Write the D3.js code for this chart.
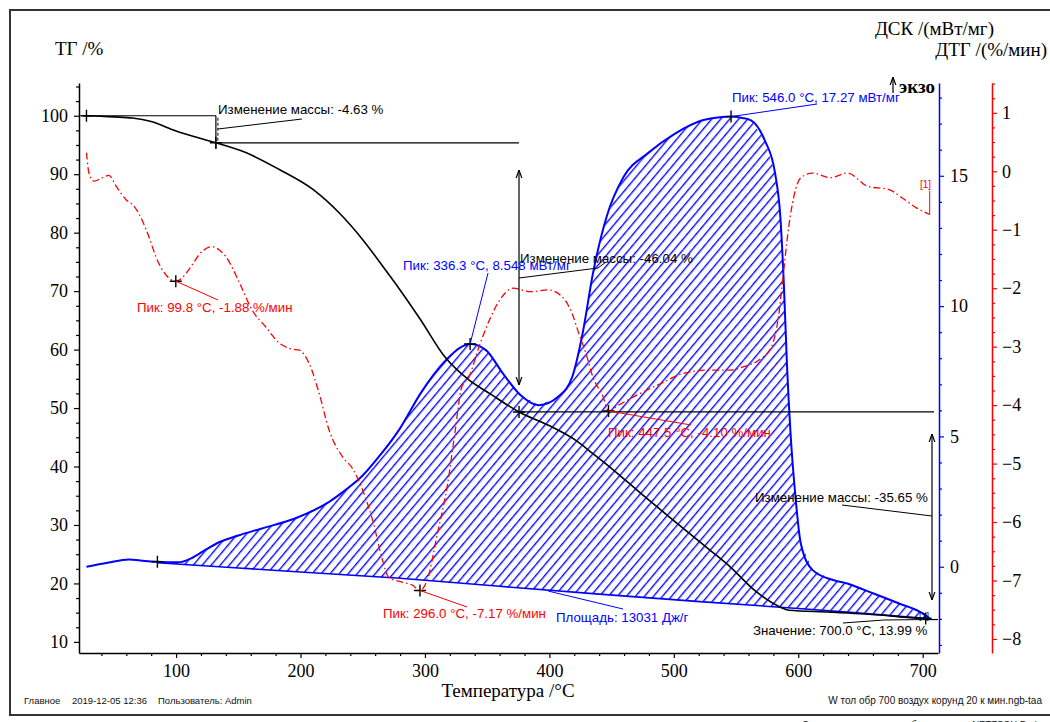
<!DOCTYPE html>
<html>
<head>
<meta charset="utf-8">
<script src="https://cdn.jsdelivr.net/npm/d3@7/dist/d3.min.js"></script>
<style>
  html, body { margin: 0; padding: 0; background: #fff; }
  svg { display: block; }
  .tick text { font-family: "Liberation Serif", "Times New Roman", serif; font-size: 18px; fill: #000; }
  .ann { font-family: "Liberation Sans", Arial, sans-serif; font-size: 13.3px; }
</style>
</head>
<body>
<svg id="chart" width="1050" height="722"></svg>
<script>
// ---------- DATA ----------
// TG (mass, %)
const tgT = [25, 50, 65, 80, 100, 115, 132, 156, 183, 210, 231, 250, 268, 280, 296.5, 315.8, 335.3, 351.9, 375.6, 398.8, 421, 435, 451.5, 473.5, 490, 509.3, 529, 545.5, 565, 585, 592.5, 625.6, 666, 690, 700, 706];
const tgV = [100, 99.8, 99.6, 99.0, 97.4, 96.4, 95.37, 93.7, 90.8, 87.4, 83.4, 78.8, 73.7, 70.2, 65.1, 58.8, 54.8, 52.5, 49.33, 47.1, 44.5, 42.2, 39.4, 35.4, 32.5, 29.1, 25.7, 22.8, 18.8, 16.0, 15.4, 15.1, 14.6, 14.15, 13.99, 13.9];
// DSC (mW/mg)
const dscT = [28, 45, 62, 75, 85, 102, 112, 122, 135, 150, 169, 196, 223, 236, 250, 263, 280, 296.5, 317, 328, 336.3, 349, 362.6, 376.7, 391.6, 407, 418.4, 426.7, 435, 446, 459.7, 479, 501, 523, 537, 546, 555, 562, 573, 581.4, 585.6, 588.4, 591, 593.8, 598, 602, 611.6, 628, 640, 653, 680.5, 700, 706];
const dscV = [0.0, 0.15, 0.28, 0.22, 0.19, 0.17, 0.32, 0.6, 0.95, 1.2, 1.47, 1.86, 2.49, 2.94, 3.5, 4.22, 5.31, 6.65, 7.93, 8.4, 8.548, 8.31, 7.42, 6.59, 6.2, 6.52, 7.29, 8.95, 11.25, 13.43, 14.96, 15.86, 16.62, 17.13, 17.25, 17.27, 17.22, 17.13, 16.37, 15.09, 13.43, 10.87, 7.67, 5.12, 2.56, 0.9, -0.13, -0.51, -0.65, -0.89, -1.40, -1.79, -2.0];
// DSC integration baseline
const baseT = [85, 150, 200, 280, 360, 440, 521, 600, 650, 706];
const baseV = [0.15, -0.05, -0.2, -0.44, -0.75, -1.05, -1.34, -1.6, -1.78, -2.0];
// DTG (%/min)
const dtgT = [28, 30, 34, 40, 46, 52, 60, 65, 70, 76, 86, 93, 99.8, 105, 110, 121, 129, 135, 140, 151, 161, 172, 183, 193, 199, 207, 215, 223, 234, 242, 250, 258, 266, 271, 282, 290, 296, 301.7, 310, 318.2, 324, 329.6, 335.3, 343.5, 351.9, 360.2, 370.9, 385, 398.8, 410, 418.2, 423.6, 429.3, 435, 443.2, 447.5, 455.6, 473, 489.7, 507.3, 529, 545.5, 556.4, 570.3, 578.5, 584.1, 588.1, 592.4, 596.5, 602.1, 611.6, 625.6, 639.5, 656, 672.5, 683.9, 695.3, 705.6];
const dtgV = [0.32, -0.03, -0.17, -0.12, -0.07, -0.26, -0.49, -0.57, -0.72, -1.0, -1.57, -1.8, -1.88, -1.82, -1.69, -1.37, -1.29, -1.35, -1.46, -1.91, -2.37, -2.66, -2.94, -3.04, -3.06, -3.29, -3.80, -4.43, -4.89, -5.09, -5.46, -5.97, -6.66, -6.95, -7.03, -7.08, -7.17, -7.0, -6.2, -5.35, -4.49, -3.69, -3.52, -3.0, -2.54, -2.2, -2.0, -2.06, -2.03, -2.14, -2.43, -2.77, -3.11, -3.52, -3.86, -4.10, -4.0, -3.80, -3.63, -3.46, -3.40, -3.40, -3.34, -3.2, -3.0, -2.49, -1.74, -0.94, -0.43, -0.11, -0.03, -0.11, -0.03, -0.26, -0.31, -0.46, -0.63, -0.74];
// Ticks
const xTicks = [100, 200, 300, 400, 500, 600, 700];
const tgTicks = [10, 20, 30, 40, 50, 60, 70, 80, 90, 100];
const dscTicks = [0, 5, 10, 15];
const dtgTicks = [1, 0, -1, -2, -3, -4, -5, -6, -7, -8];
// Labels
const axisTitles = { tg: "ТГ /%", dsc: "ДСК /(мВт/мг)", dtg: "ДТГ /(%/мин)", x: "Температура /°C", exo: "экзо" };

// ---------- SCALES ----------
const svg = d3.select("#chart");
const x = d3.scaleLinear().domain([22, 712.3]).range([79, 938]);
const yTG = d3.scaleLinear().domain([8.1, 105.6]).range([653, 83]);
const yDSC = d3.scaleLinear().domain([-3.31, 18.56]).range([653, 83]);
const yDTG = d3.scaleLinear().domain([-8.24, 1.51]).range([653, 83]);

const BLUE = "#0000ff", RED = "#ff0000";

// defs
const defs = svg.append("defs");
const pat = defs.append("pattern").attr("id", "hatch").attr("patternUnits", "userSpaceOnUse")
  .attr("width", 6.9).attr("height", 10).attr("patternTransform", "rotate(40)");
pat.append("line").attr("x1", 0.7).attr("y1", -1).attr("x2", 0.7).attr("y2", 11)
  .attr("stroke", BLUE).attr("stroke-width", 1.35);
function arrowMarker(id, color) {
  defs.append("marker").attr("id", id).attr("viewBox", "0 0 10 10").attr("refX", 10).attr("refY", 5)
    .attr("markerWidth", 7).attr("markerHeight", 7).attr("orient", "auto-start-reverse")
    .append("path").attr("d", "M0,1.5 L10,5 L0,8.5").attr("fill", "none").attr("stroke", color).attr("stroke-width", 1.4);
}
arrowMarker("arr", "#000");

// frame
svg.append("rect").attr("x", 10).attr("y", 10).attr("width", 1100).attr("height", 705)
  .attr("fill", "none").attr("stroke", "#333").attr("stroke-width", 2);

// ---------- AXES ----------
function styleAxis(g, color) {
  g.select(".domain").attr("stroke", color).attr("stroke-width", 1.5);
  g.selectAll(".tick line").attr("stroke", color).attr("stroke-width", 1.2);
}
// X
const gx = svg.append("g").attr("transform", "translate(0,653)")
  .call(d3.axisBottom(x).tickValues(xTicks).tickSize(5).tickSizeOuter(0).tickPadding(6).tickFormat(d3.format("d")));
styleAxis(gx, "#000");
const gxm = svg.append("g").attr("transform", "translate(0,653)")
  .call(d3.axisBottom(x).tickValues(d3.range(40, 711, 20).filter(d => d % 100 !== 0)).tickSize(3).tickSizeOuter(0).tickFormat(""));
gxm.select(".domain").remove(); styleAxis(gxm, "#000");
// TG
const gy = svg.append("g").attr("transform", "translate(79,0)")
  .call(d3.axisLeft(yTG).tickValues(tgTicks).tickSize(5).tickSizeOuter(0).tickPadding(6).tickFormat(d3.format("d")));
styleAxis(gy, "#000");
const gym = svg.append("g").attr("transform", "translate(79,0)")
  .call(d3.axisLeft(yTG).tickValues(d3.range(12.5, 106, 2.5).filter(d => d % 10 !== 0)).tickSize(3).tickSizeOuter(0).tickFormat(""));
gym.select(".domain").remove(); styleAxis(gym, "#000");
// DSC
const gd = svg.append("g").attr("transform", "translate(939,0)")
  .call(d3.axisRight(yDSC).tickValues(dscTicks).tickSize(5).tickSizeOuter(0).tickPadding(6).tickFormat(d3.format("d")));
styleAxis(gd, BLUE);
const gdm = svg.append("g").attr("transform", "translate(939,0)")
  .call(d3.axisRight(yDSC).tickValues(d3.range(-3, 19, 1).filter(d => d % 5 !== 0)).tickSize(3).tickSizeOuter(0).tickFormat(""));
gdm.select(".domain").remove(); styleAxis(gdm, BLUE);
// DTG
const gt = svg.append("g").attr("transform", "translate(992,0)")
  .call(d3.axisRight(yDTG).tickValues(dtgTicks).tickSize(5).tickSizeOuter(0).tickPadding(5).tickFormat(d3.format("d")));
styleAxis(gt, RED);
const gtm = svg.append("g").attr("transform", "translate(992,0)")
  .call(d3.axisRight(yDTG).tickValues(d3.range(-8, 1.6, 0.25).filter(d => Math.abs(d % 1) > 0.01)).tickSize(3).tickSizeOuter(0).tickFormat(""));
gtm.select(".domain").remove(); styleAxis(gtm, RED);

// titles
const serif = "'Liberation Serif', 'Times New Roman', serif";
function txt(xp, yp, s, opts = {}) {
  return svg.append("text").attr("x", xp).attr("y", yp).text(s)
    .attr("font-family", opts.family || serif).attr("font-size", opts.size || 18)
    .attr("fill", opts.fill || "#000").attr("text-anchor", opts.anchor || "start")
    .attr("font-weight", opts.weight || "normal");
}
txt(55, 55, axisTitles.tg, { size: 19 });
txt(994, 35, axisTitles.dsc, { size: 19, anchor: "end" });
txt(1047, 56, axisTitles.dtg, { size: 19, anchor: "end" });
txt(508, 697, axisTitles.x, { size: 19, anchor: "middle" });
txt(899, 93, axisTitles.exo, { size: 19, weight: "bold" });
svg.append("line").attr("x1", 893).attr("y1", 93).attr("x2", 893).attr("y2", 77).attr("stroke", "#000").attr("stroke-width", 1.2)
  .attr("marker-end", "url(#arr)");

// ---------- SERIES ----------
const pts = (ts, vs, ys) => ts.map((t, i) => [x(t), ys(vs[i])]);
const dscPts = pts(dscT, dscV, yDSC);
const basePts = pts(baseT, baseV, yDSC);
// hatched area between DSC curve and baseline
const areaPts = dscPts.filter((p, i) => dscT[i] >= 85).concat(basePts.slice().reverse());
svg.append("path").attr("d", d3.line()(areaPts) + "Z").attr("fill", "url(#hatch)").attr("stroke", "none");
svg.append("path").attr("d", d3.line()(basePts)).attr("fill", "none").attr("stroke", BLUE).attr("stroke-width", 1.6);
svg.append("path").attr("d", d3.line().curve(d3.curveMonotoneX)(dscPts)).attr("fill", "none").attr("stroke", BLUE).attr("stroke-width", 2);

// DTG
svg.append("path").attr("d", d3.line().curve(d3.curveMonotoneX)(pts(dtgT, dtgV, yDTG)))
  .attr("fill", "none").attr("stroke", RED).attr("stroke-width", 1.3).attr("stroke-dasharray", "7,3,1.5,3");
// TG
svg.append("path").attr("d", d3.line().curve(d3.curveMonotoneX)(pts(tgT, tgV, yTG)))
  .attr("fill", "none").attr("stroke", "#000").attr("stroke-width", 1.6);

// ---------- ANNOTATIONS ----------
function line(x1, y1, x2, y2, color, w = 1.2, extra) {
  const l = svg.append("line").attr("x1", x1).attr("y1", y1).attr("x2", x2).attr("y2", y2)
    .attr("stroke", color).attr("stroke-width", w);
  if (extra) extra(l);
  return l;
}
function cross(cx, cy, color = "#000") {
  svg.append("path").attr("d", `M${cx - 6},${cy}H${cx + 6}M${cx},${cy - 6}V${cy + 6}`)
    .attr("stroke", color).attr("stroke-width", 1.4);
}
function ann(xp, yp, s, color) {
  return svg.append("text").attr("class", "ann").attr("x", xp).attr("y", yp).attr("fill", color).text(s);
}
const dblArrow = l => l.attr("marker-end", "url(#arr)").attr("marker-start", "url(#arr)");

// TG step 1
const t1 = x(132), t2 = x(375.6);
line(x(28), yTG(100), t1, yTG(100), "#000");
cross(x(28), yTG(100));
line(t1, yTG(95.37), t2, yTG(95.37), "#000");
line(t1, yTG(100), t1, yTG(95.37) + 6, "#000", 1.2);
line(t1 + 2, yTG(100) + 2, t1 + 2, yTG(95.37) - 2, "#000", 1, l => l.attr("stroke-dasharray", "3,2"));
cross(t1, yTG(95.37));
line(t1 + 2, 129, 302, 119, "#000", 1);
ann(218, 114, "Изменение массы: -4.63 %", "#000");

// TG step 2
line(t2, 170, t2, 385, "#000", 1.2, dblArrow);
line(t2, yTG(49.33), 934, yTG(49.33), "#000");
cross(t2, yTG(49.33));
line(t2, 278, 598, 268, "#000", 1);
line(598, 268, 606, 262, "#000", 1);
ann(t2 + 1, 263, "Изменение массы: -46.04 %", "#000");

// TG step 3
line(932, 434, 932, 600, "#000", 1.2, dblArrow);
line(842, 505, 932, 516, "#000", 1);
ann(755, 502, "Изменение массы: -35.65 %", "#000");

// Value at 700
cross(x(700) + 3, yTG(13.99));
line(843, 623, 884, 620, "#000", 1);
line(884, 620, x(700), yTG(13.99) + 1, "#000", 1);
line(x(700), yTG(13.99) + 1, 938, yTG(13.99) + 1, "#000", 1.2);
ann(753, 635, "Значение: 700.0 °C, 13.99 %", "#000");
svg.append("text").attr("x", 919).attr("y", 619).attr("font-family", "'Liberation Sans', Arial, sans-serif")
  .attr("font-size", 9).attr("fill", "#000").text("[1]");

// DSC peaks
cross(x(546), yDSC(17.27));
line(x(546), yDSC(17.27), 817, 104, BLUE, 1);
ann(732, 102, "Пик: 546.0 °C, 17.27 мВт/мг", BLUE);
cross(x(336.3), yDSC(8.548));
line(x(336.3), yDSC(8.548), 488, 273, BLUE, 1);
ann(403, 270, "Пик: 336.3 °C, 8.548 мВт/мг", BLUE);
cross(x(85), yDSC(0.19));
// area
line(548, 591, 623, 609, BLUE, 1);
ann(556, 622, "Площадь: 13031 Дж/г", BLUE);

// DTG peaks
cross(x(99.8), yDTG(-1.88));
line(x(99.8), yDTG(-1.88), 218, 300, RED, 1);
ann(137, 312, "Пик: 99.8 °C, -1.88 %/мин", RED);
cross(x(296), yDTG(-7.17));
line(x(296), yDTG(-7.17), 467, 607, RED, 1);
ann(383, 618, "Пик: 296.0 °C, -7.17 %/мин", RED);
cross(x(447.5), yDTG(-4.10));
line(x(447.5), yDTG(-4.10), 691, 425, RED, 1);
ann(608, 437, "Пик: 447.5 °C, -4.10 %/мин", RED);
// DTG end marker
line(x(705.6), yDTG(-0.74), x(705.6), 191, RED, 1);
svg.append("text").attr("x", 920).attr("y", 188).attr("font-family", "'Liberation Sans', Arial, sans-serif")
  .attr("font-size", 10).attr("fill", RED).text("[1]");

// ---------- FOOTER ----------
const sans = "'Liberation Sans', Arial, sans-serif";
txt(24, 704, "Главное", { family: sans, size: 9.5, fill: "#111" });
txt(72, 704, "2019-12-05 12:36", { family: sans, size: 9.5, fill: "#111" });
txt(158, 704, "Пользователь: Admin", { family: sans, size: 9.5, fill: "#111" });
txt(1042, 704, "W тол обр 700 воздух корунд 20 к мин.ngb-taa", { family: sans, size: 10, fill: "#111", anchor: "end" });
txt(802, 727, "Создано программным обеспечением NETZSCH Proteus", { family: sans, size: 9.5, fill: "#111" });
</script>
</body>
</html>
